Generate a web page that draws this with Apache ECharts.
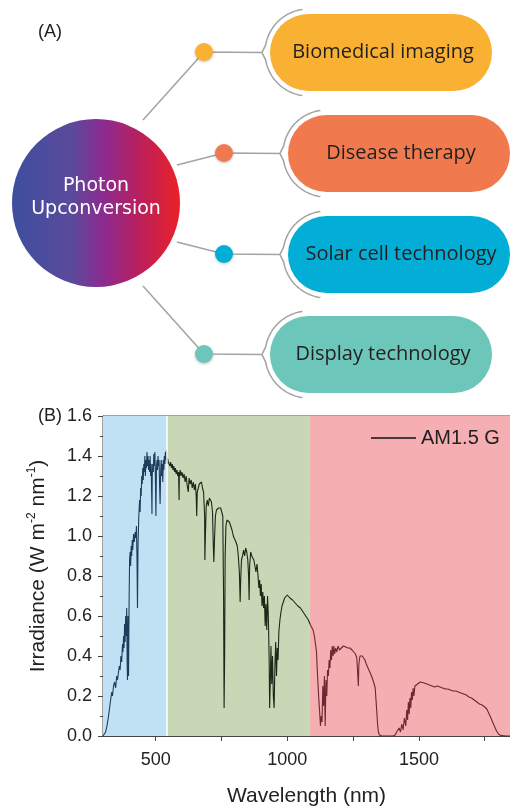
<!DOCTYPE html>
<html><head><meta charset="utf-8">
<script src="https://cdn.jsdelivr.net/npm/echarts@6/dist/echarts.min.js"></script>
<style>html,body{margin:0;padding:0;background:#fff}#c{width:510px;height:808px}</style>
</head><body><div id="c"></div>
<script>
// ---- Panel B data: AM1.5 G spectrum, [wavelength nm, irradiance W m-2 nm-1] ----
const am15g = [
[300,0.00],[305,0.005],[310,0.02],[315,0.05],[320,0.09],[325,0.14],[330,0.19],[333,0.22],[336,0.20],[340,0.25],
[344,0.27],[348,0.24],[352,0.30],[355,0.28],[358,0.31],[362,0.35],[365,0.33],[368,0.40],[371,0.37],[374,0.46],
[376,0.42],[378,0.50],[380,0.44],[382,0.56],[384,0.47],[386,0.60],[388,0.50],[390,0.64],[392,0.35],[393,0.28],
[395,0.60],[397,0.30],[399,0.65],[401,0.88],[403,0.92],[405,0.85],[407,0.95],[409,0.90],[411,0.98],[413,0.93],
[416,1.01],[419,0.97],[422,1.02],[425,0.99],[427,1.05],[429,0.90],[431,0.64],[433,0.95],[436,1.10],[439,1.18],
[441,1.12],[443,1.24],[445,1.20],[447,1.30],[449,1.26],[451,1.34],[453,1.28],[455,1.36],[457,1.32],[459,1.40],
[461,1.30],[463,1.38],[465,1.34],[467,1.42],[469,1.35],[471,1.40],[473,1.33],[475,1.38],[477,1.32],[479,1.40],
[481,1.30],[483,1.36],[485,1.20],[486,1.11],[487,1.30],[489,1.36],[491,1.32],[493,1.41],[495,1.35],[497,1.42],
[499,1.30],[501,1.10],[503,1.34],[505,1.38],[507,1.33],[509,1.40],[511,1.35],[513,1.38],[515,1.25],[517,1.16],
[519,1.32],[521,1.38],[523,1.30],[525,1.36],[527,1.27],[529,1.38],[531,1.33],[533,1.40],[535,1.36],[537,1.42],
[539,1.38],[541,1.43],[543,1.36],[545,1.39],[548,1.37],[551,1.38],[554,1.35],[557,1.37],[560,1.34],[563,1.36],
[566,1.33],[569,1.35],[572,1.32],[575,1.34],[578,1.31],[581,1.33],[584,1.30],[587,1.32],[589,1.18],[590,1.30],
[593,1.33],[596,1.30],[600,1.32],[604,1.29],[608,1.31],[612,1.27],[616,1.30],[620,1.25],[624,1.22],[627,1.29],
[631,1.26],[635,1.28],[639,1.24],[643,1.27],[647,1.23],[651,1.26],[654,1.20],[656,1.10],[658,1.22],[662,1.24],
[666,1.26],[670,1.25],[674,1.27],[678,1.24],[682,1.22],[686,1.10],[687,0.88],[689,1.00],[692,1.15],[696,1.18],
[700,1.15],[704,1.19],[708,1.20],[712,1.17],[716,1.12],[719,0.95],[721,0.87],[724,1.00],[727,1.10],[731,1.13],
[735,1.12],[739,1.14],[743,1.13],[747,1.14],[751,1.12],[755,1.10],[758,0.70],[760,0.14],[762,0.40],[764,0.90],
[767,1.05],[771,1.08],[775,1.08],[780,1.07],[785,1.05],[790,1.03],[795,1.00],[800,0.99],[805,0.97],[810,0.95],
[814,0.90],[818,0.82],[821,0.67],[823,0.78],[826,0.88],[830,0.90],[834,0.93],[838,0.90],[842,0.94],[846,0.92],
[850,0.88],[853,0.80],[855,0.68],[857,0.85],[861,0.92],[865,0.90],[869,0.89],[873,0.88],[877,0.85],[881,0.82],
[885,0.86],[889,0.80],[892,0.74],[895,0.78],[898,0.70],[901,0.76],[904,0.65],[907,0.72],[910,0.64],[913,0.70],
[916,0.55],[919,0.66],[922,0.53],[925,0.70],[928,0.60],[931,0.40],[933,0.14],[936,0.30],[938,0.45],[941,0.26],
[944,0.40],[947,0.20],[950,0.14],[953,0.35],[956,0.47],[959,0.30],[962,0.44],[965,0.38],[968,0.52],[972,0.58],
[976,0.62],[980,0.65],[985,0.67],[990,0.69],[995,0.70],[1000,0.705],[1005,0.70],[1010,0.69],[1020,0.68],[1030,0.665],
[1040,0.65],[1050,0.64],[1060,0.62],[1070,0.60],[1080,0.58],[1090,0.55],[1098,0.53],[1103,0.50],[1107,0.46],[1111,0.42],
[1114,0.33],[1117,0.25],[1120,0.18],[1123,0.12],[1126,0.05],[1129,0.10],[1132,0.07],[1135,0.25],[1138,0.15],[1141,0.30],
[1144,0.05],[1147,0.28],[1150,0.20],[1153,0.33],[1156,0.30],[1159,0.38],[1162,0.34],[1165,0.43],[1168,0.38],[1171,0.45],
[1174,0.40],[1177,0.45],[1180,0.41],[1184,0.44],[1188,0.42],[1193,0.45],[1198,0.43],[1205,0.44],[1213,0.45],[1222,0.445],
[1230,0.44],[1238,0.44],[1246,0.43],[1253,0.42],[1259,0.41],[1264,0.39],[1268,0.30],[1270,0.25],[1272,0.36],[1276,0.40],
[1280,0.41],[1285,0.40],[1290,0.39],[1295,0.38],[1300,0.36],[1305,0.35],[1310,0.33],[1315,0.32],[1320,0.30],[1325,0.28],
[1330,0.26],[1334,0.24],[1337,0.18],[1340,0.12],[1343,0.06],[1346,0.02],[1350,0.005],[1360,0],[1380,0],[1400,0],
[1410,0.005],[1415,0.02],[1420,0.01],[1425,0.04],[1430,0.02],[1435,0.06],[1440,0.03],[1445,0.09],[1450,0.05],[1454,0.13],
[1457,0.08],[1460,0.17],[1463,0.11],[1466,0.19],[1469,0.14],[1472,0.22],[1475,0.18],[1478,0.24],[1481,0.20],[1485,0.25],
[1490,0.245],[1495,0.26],[1500,0.265],[1505,0.27],[1510,0.265],[1520,0.265],[1530,0.26],[1540,0.255],[1550,0.25],[1560,0.245],
[1570,0.25],[1580,0.245],[1590,0.24],[1600,0.235],[1610,0.235],[1620,0.23],[1630,0.225],[1640,0.225],[1650,0.22],[1660,0.215],
[1670,0.21],[1680,0.205],[1690,0.195],[1700,0.19],[1710,0.18],[1720,0.17],[1730,0.16],[1740,0.155],[1750,0.145],[1758,0.135],
[1765,0.115],[1772,0.095],[1780,0.07],[1788,0.045],[1795,0.025],[1802,0.01],[1810,0.003],[1830,0],[1846,0]
];
const regionBounds = [300, 543, 1086, 1846];
const xTickValues = [500, 750, 1000, 1250, 1500, 1750];
const xTickLabels = [500, 1000, 1500];
const yTickLabels = [0.0, 0.2, 0.4, 0.6, 0.8, 1.0, 1.2, 1.4, 1.6];
const seriesName = 'AM1.5 G';
const annotations = ['Downconversion', 'Upconversion'];
// ---- Panel A content ----
const centerText = ['Photon', 'Upconversion'];
const applications = ['Biomedical imaging', 'Disease therapy', 'Solar cell technology', 'Display technology'];
const appColors = ['#f8b133', '#f07a4e', '#03aed6', '#6cc6b9'];

// ---- layout / style (not data) ----
const regionFill = ['#c0e0f4', '#c8d7b6', '#f5aeb2'];
const lineColors = ['#1f3d5b', '#1b2817', '#6e2630'];
const pills = [
  {L:270, T:14, h:77, w:222, dot:[204,52], from:[143,120]},
  {L:288, T:115, h:77, w:222, dot:[224,153], from:[177,165]},
  {L:288, T:216, h:77, w:222, dot:[224,254], from:[177,242]},
  {L:270, T:316, h:77, w:222, dot:[204,354], from:[143,286]}
];

const graphics = [];
graphics.push({type:'text', style:{text:'(A)', x:38, y:32, fontSize:18, fontFamily:'Liberation Sans', fill:'#222', verticalAlign:'middle'}});
graphics.push({type:'text', style:{text:'(B)', x:38, y:416, fontSize:18, fontFamily:'Liberation Sans', fill:'#222', verticalAlign:'middle'}});
pills.forEach((p, i) => {
  const cy = p.T + p.h / 2, r = p.h / 2, cx = p.L + r, R = r + 5;
  const notchX = cx - R - 3;
  graphics.push({type:'polyline', shape:{points:[p.from, p.dot, [notchX, cy]]}, style:{stroke:'#a3a3a3', lineWidth:1.5, fill:null}});
  const pts = [];
  for (let a = 262; a >= 190; a -= 3) pts.push([cx + R*Math.cos(a*Math.PI/180), cy + R*Math.sin(a*Math.PI/180)]);
  pts.push([cx + R*Math.cos(190*Math.PI/180), cy + R*Math.sin(190*Math.PI/180)]);
  pts.push([notchX, cy]);
  for (let a = 170; a >= 98; a -= 3) pts.push([cx + R*Math.cos(a*Math.PI/180), cy + R*Math.sin(a*Math.PI/180)]);
  graphics.push({type:'polyline', shape:{points:pts}, style:{stroke:'#a3a3a3', lineWidth:1.5, fill:null}});
  graphics.push({type:'rect', shape:{x:p.L, y:p.T, width:p.w, height:p.h, r:r}, style:{fill:appColors[i]}});
  graphics.push({type:'text', style:{text:applications[i], x:p.L + p.w/2 + 2, y:cy, fontSize:20, fontFamily:'Open Sans', fill:'#231f20', align:'center', verticalAlign:'middle'}});
  graphics.push({type:'circle', shape:{cx:p.dot[0], cy:p.dot[1], r:9}, style:{fill:appColors[i], shadowBlur:3, shadowColor:'rgba(0,0,0,0.25)', shadowOffsetY:1}});
});
graphics.push({type:'circle', shape:{cx:96, cy:203, r:84}, style:{fill:new echarts.graphic.LinearGradient(0,0,1,0,[
  {offset:0, color:'#3e4e9f'}, {offset:0.35, color:'#5a4a9c'}, {offset:0.55, color:'#8d2a8f'}, {offset:0.75, color:'#b8205e'}, {offset:1, color:'#ec2027'}])}});
graphics.push({type:'text', style:{text:centerText[0], x:96, y:186, fontSize:19, fontFamily:'DejaVu Sans', fill:'#fff', align:'center', verticalAlign:'middle'}});
graphics.push({type:'text', style:{text:centerText[1], x:96, y:209, fontSize:19, fontFamily:'DejaVu Sans', fill:'#fff', align:'center', verticalAlign:'middle'}});
graphics.push({type:'text', style:{text:annotations[0], x:180, y:433, fontSize:17, fontFamily:'Liberation Sans', fill:'#222', verticalAlign:'middle'}});
graphics.push({type:'text', style:{text:annotations[1], x:322, y:519, fontSize:16, fontFamily:'Liberation Sans', fill:'#222', verticalAlign:'middle'}});
function arrow(x1,y1,c1x,c1y,c2x,c2y,x2,y2){
  graphics.push({type:'bezierCurve', shape:{x1:x1,y1:y1,cpx1:c1x,cpy1:c1y,cpx2:c2x,cpy2:c2y,x2:x2,y2:y2}, style:{stroke:'#111', lineWidth:1.6, fill:null}});
  let dx = x2 - c2x, dy = y2 - c2y; const L = Math.hypot(dx, dy); dx /= L; dy /= L;
  const bx = x2 - dx*8, by = y2 - dy*8;
  graphics.push({type:'polygon', shape:{points:[[x2+dx*2,y2+dy*2],[bx - dy*3.5, by + dx*3.5],[bx + dy*3.5, by - dx*3.5]]}, style:{fill:'#111'}});
}
arrow(128,461, 145,440, 195,435, 209,466);
arrow(341,566, 338,528, 295,515, 282,541);

const chart = echarts.init(document.getElementById('c'), null, {renderer:'canvas', width:510, height:808});
chart.setOption({
  animation:false,
  backgroundColor:'#fff',
  textStyle:{fontFamily:'Liberation Sans'},
  grid:{left:103, right:-1, top:416, bottom:69, show:true, borderColor:'#444', borderWidth:1, containLabel:false},
  legend:{left:371, top:428, padding:0, itemWidth:45, itemHeight:1.5, textStyle:{fontSize:20, color:'#222', fontFamily:'Liberation Sans'},
    data:[{name:seriesName, icon:'rect', itemStyle:{color:'#111'}}]},
  visualMap:{show:false, type:'piecewise', dimension:0, seriesIndex:1, pieces:[
    {lt:regionBounds[1], color:lineColors[0]}, {gte:regionBounds[1], lt:regionBounds[2], color:lineColors[1]}, {gte:regionBounds[2], color:lineColors[2]}]},
  xAxis:{type:'value', min:regionBounds[0], max:regionBounds[3],
    name:'Wavelength (nm)', nameLocation:'middle', nameGap:50, nameTextStyle:{fontSize:21, color:'#222'},
    axisLine:{lineStyle:{color:'#444'}}, axisTick:{length:5, customValues:xTickValues, lineStyle:{color:'#444'}},
    axisLabel:{fontSize:18, color:'#222', margin:15, customValues:xTickLabels, formatter:v => String(v)},
    splitLine:{show:false}},
  yAxis:{type:'value', min:0, max:1.6, interval:0.2,
    name:'Irradiance (W m{sup|-2} nm{sup|-1})', nameLocation:'middle', nameGap:53,
    nameTextStyle:{fontSize:21, color:'#222', lineHeight:24, padding:[0,0,0,20], rich:{sup:{fontSize:12, lineHeight:12, verticalAlign:'top', color:'#222'}}},
    axisLine:{show:true, lineStyle:{color:'#444'}}, axisTick:{length:5, lineStyle:{color:'#444'}},
    minorTick:{show:true, splitNumber:2, length:3, lineStyle:{color:'#444'}},
    axisLabel:{fontSize:18, color:'#222', margin:11, formatter:v => yTickLabels.includes(+v.toFixed(1)) ? v.toFixed(1) : ''},
    splitLine:{show:false}},
  series:[
    {type:'line', name:'regions', data:[], z:1, silent:true,
      markArea:{silent:true, data:[0,1,2].map(i => [{xAxis:regionBounds[i], itemStyle:{color:regionFill[i]}}, {xAxis:regionBounds[i+1]}])},
      markLine:{silent:true, symbol:'none', label:{show:false}, lineStyle:{color:'#fff', width:1.5, type:'solid'}, data:[{xAxis:regionBounds[1]}]}},
    {type:'line', name:seriesName, data:am15g, showSymbol:false, symbol:'none', z:3, lineStyle:{width:1.1}}
  ],
  graphic:graphics
});
</script></body></html>
